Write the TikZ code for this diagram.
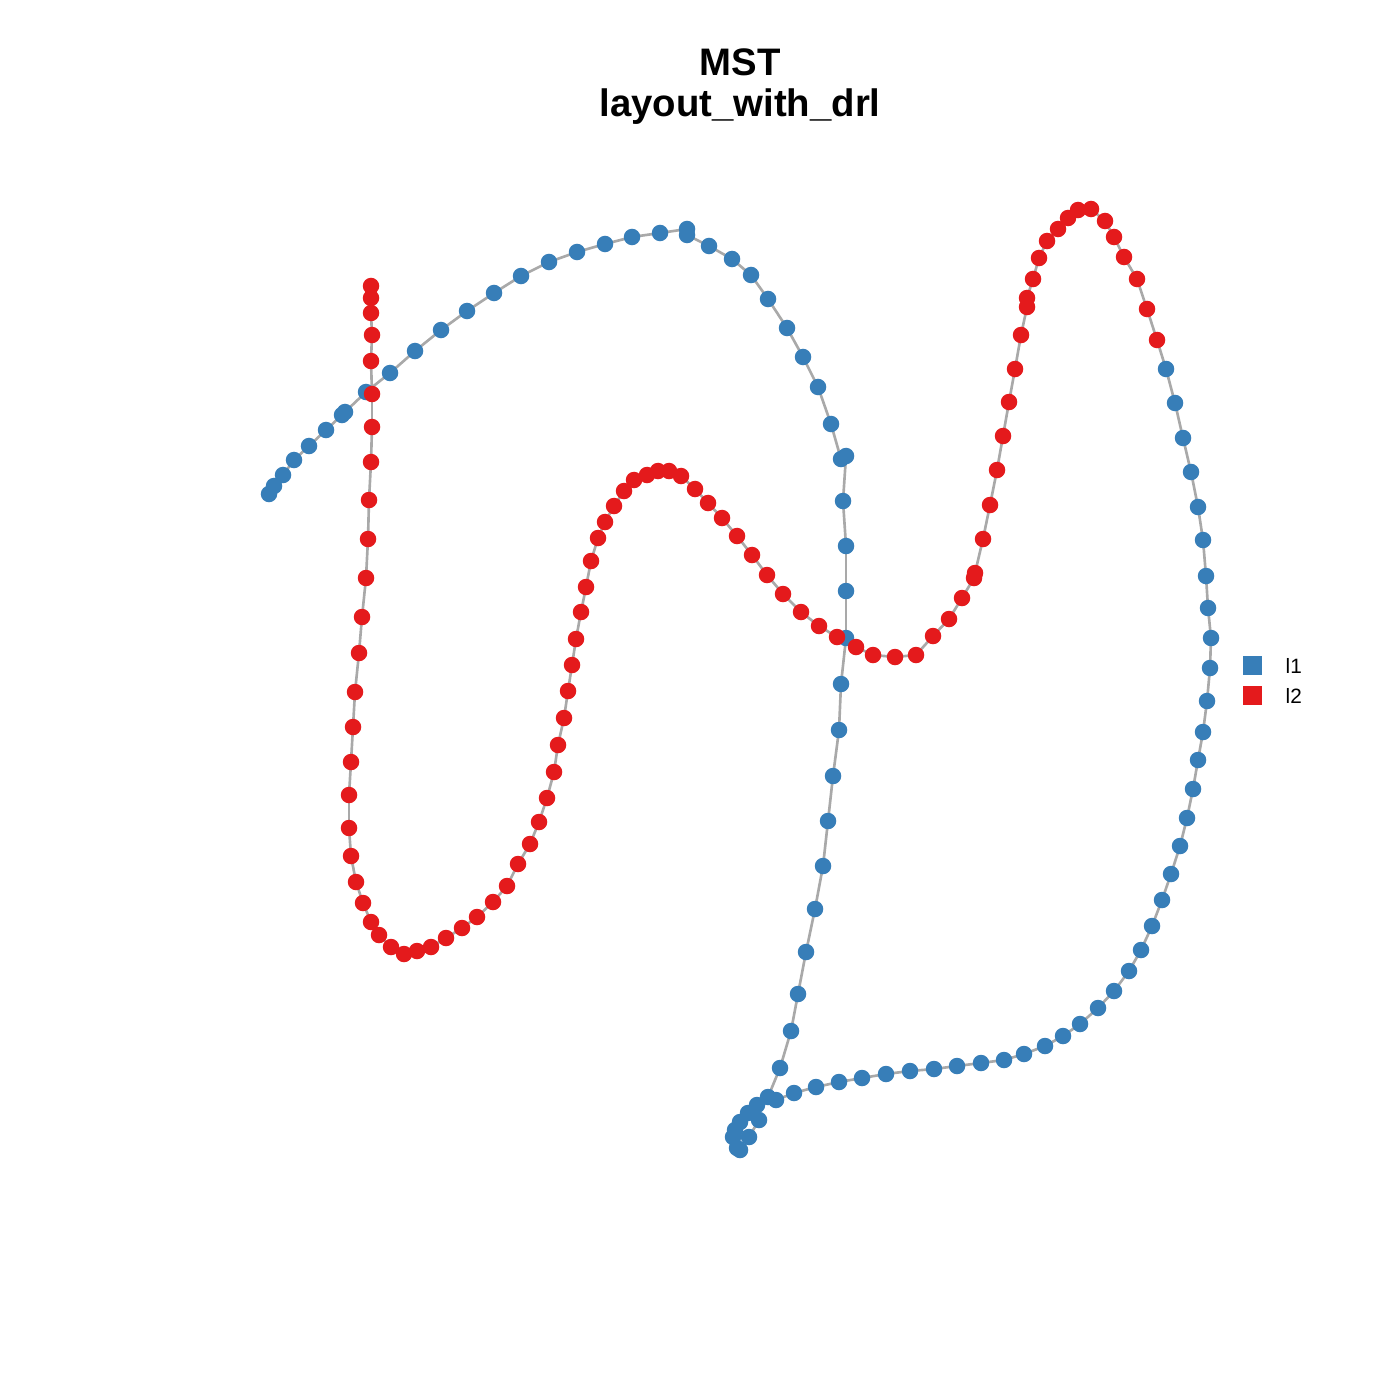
\documentclass[tikz,border=0pt]{standalone}
\usepackage{fontspec}
\setmainfont{Liberation Sans}
\usepackage{tikz}
\usetikzlibrary{positioning}
\definecolor{setblue}{RGB}{55,126,184}
\definecolor{setred}{RGB}{228,26,28}
\definecolor{mstgray}{RGB}{169,169,169}

\begin{document}
\begin{tikzpicture}[x=0.01cm,y=-0.01cm,
  mstline/.style={draw=mstgray,line width=0.75pt},
  bluept/.style={circle,fill=setblue,inner sep=0pt,minimum size=0.165cm},
  redpt/.style={circle,fill=setred,inner sep=0pt,minimum size=0.165cm},
  keybox/.style={rectangle,inner sep=0pt,minimum size=0.19cm},
  keytext/.style={anchor=base west,inner sep=0pt,font=\fontsize{5.9}{7}\selectfont},
  titletext/.style={anchor=base,inner sep=0pt,font=\fontsize{10.9}{13}\selectfont\bfseries}]
  \useasboundingbox (0,0) rectangle (1400,1400); % 画像全体の枠
  % 頂点の座標（1-94 が l1, 95-189 が l2）
  \foreach \px/\py [count=\i] in {269/494,274/486,283/475,294/460,309/446,326/430,342/415,345/412,366/392,390/373,
    415/351,441/330,467/311,494/293,521/276,549/262,577/252,605/244,632/237,660/233,
    687/229,687/235,709/246,732/259,751/275,768/299,787/328,803/357,818/387,831/424,
    841/459,846/456,843/501,846/546,846/591,846/638,841/684,839/730,833/776,828/821,
    823/866,815/909,806/952,798/994,791/1031,780/1068,768/1097,757/1105,748/1113,740/1122,
    735/1130,733/1137,737/1148,740/1150,759/1120,749/1137,776/1100,794/1093,816/1087,839/1082,
    862/1078,886/1074,910/1071,934/1069,957/1066,981/1063,1004/1060,1024/1054,1045/1046,1063/1036,
    1080/1024,1098/1008,1114/991,1129/971,1141/950,1152/926,1162/900,1171/874,1180/846,1187/818,
    1193/789,1198/760,1203/732,1207/701,1210/668,1211/638,1208/608,1206/576,1203/540,1198/507,
    1191/472,1183/438,1175/403,1166/369,
    1157/340,1147/309,1137/279,1124/257,1114/237,1105/221,1091/209,1078/210,1068/218,1058/229,
    1047/241,1039/258,1033/279,1027/298,1027/307,1021/335,1015/369,1009/402,1003/436,997/470,
    990/505,983/539,975/573,974/578,962/598,949/619,933/636,916/655,895/657,873/655,
    856/647,837/637,819/626,801/612,783/594,767/575,752/555,737/536,722/518,708/503,
    695/489,681/476,669/471,658/471,647/475,634/480,624/491,614/506,605/522,598/538,
    591/561,586/587,581/612,576/639,572/665,568/691,564/718,558/745,554/772,547/798,
    539/822,530/844,518/864,507/886,493/902,477/917,462/928,446/938,431/947,417/951,
    404/954,391/947,379/935,371/922,363/903,356/882,351/856,349/828,349/795,351/762,
    353/727,355/692,359/653,362/617,366/578,368/539,369/500,371/462,372/427,372/394,
    371/361,372/335,371/313,371/298,371/286}
    \coordinate (p\i) at (\px,\py);
  % 木の辺
  \foreach \i [evaluate=\i as \j using int(\i+1)] in {1,...,53,55,57,58,...,188}
    \draw[mstline] (p\i) -- (p\j);
  \draw[mstline] (p49) -- (p55); % 下の塊からの枝
  \draw[mstline] (p47) -- (p57); % 下側の曲線へ続く枝
  % 頂点
  \foreach \i in {1,...,94}
    \node[bluept] (v\i) at (p\i) {};
  \foreach \i in {95,...,189}
    \node[redpt] (v\i) at (p\i) {};
  % 凡例
  \node[keybox,fill=setblue] (k1) at (1252,665.5) {};
  \node[keybox,fill=setred] (k2) at (1252,695) {};
  \node[keytext] (k1text) at (1285,673) {l1};
  \node[keytext] (k2text) at (1285,703) {l2};
  % 表題
  \node[titletext] (ttl1) at (740,76) {MST};
  \node[titletext] (ttl2) at (740,117) {layout\_with\_drl};
\end{tikzpicture}
\end{document}
